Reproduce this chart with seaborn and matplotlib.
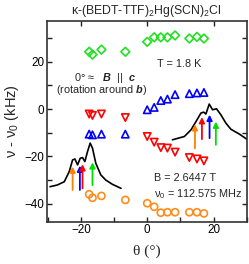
import numpy as np
import pandas as pd
import matplotlib
matplotlib.use("Agg")
import matplotlib.pyplot as plt
import seaborn as sns

# ---------------- data ----------------
theta = [-17.5, -16.5, -13.8, -6.6, 0.0, 2.1, 4.1, 6.1, 8.4, 12.7, 15.0, 17.1]
green_diamond = [24.2, 23.0, 25.1, 24.2, 28.4, 30.3, 30.3, 30.3, 31.1, 29.8, 30.5, 29.8]
blue_up = [-10.6, -10.9, -10.6, -10.6, -0.3, 0.7, 3.6, 4.2, 6.1, 6.5, 6.8, 7.0]
red_down = [-2.1, -2.7, -2.1, -3.6, -11.6, -14.0, -16.3, -16.5, -18.2, -20.5, -21.1, -21.9]
orange_circle = [-36.0, -37.5, -36.7, -38.4, -39.8, -41.3, -43.8, -43.6, -43.6, -43.6, -43.6, -44.1]

spec_left_x = [-29.3, -27.1, -25.0, -23.5, -22.5, -21.8, -21.0, -20.2, -19.5, -18.8,
               -18.0, -17.2, -16.5, -15.5, -14.0, -12.5, -10.5, -7.9]
spec_left_y = [-32.8, -32.1, -30.7, -26.4, -21.5, -21.1, -23.6, -20.8, -20.5, -22.2,
               -18.0, -14.4, -16.5, -22.9, -27.8, -30.0, -31.8, -33.5]
spec_right_x = [7.6, 11.2, 13.2, 14.7, 16.2, 17.0, 17.7, 18.7, 19.7, 20.9, 22.2, 23.7, 25.2, 27.8, 30.3]
spec_right_y = [-13.0, -11.6, -8.8, -5.3, -1.7, -1.3, -2.1, 2.1, -0.3, 0.1, -2.4, -5.9, -8.5, -10.6, -13.0]

arrow_colors = ["#FF8000", "#0000FF", "#FF0000", "#00E000"]
arrow_left_x = [-22.5, -20.3, -19.5, -16.5]
arrow_left_tail = [-34.2, -34.2, -33.5, -32.1]
arrow_left_head = [-24.3, -23.9, -23.3, -22.5]
arrow_right_x = [14.4, 18.8, 16.5, 20.7]
arrow_right_tail = [-16.6, -12.3, -12.7, -15.1]
arrow_right_head = [-6.4, -2.4, -3.4, -5.3]

x_ticks = [-20, 0, 20]
y_ticks = [-40, -20, 0, 20]

# ---------------- style ----------------
sns.set_style("ticks")
plt.rcParams["font.family"] = ["Liberation Sans", "DejaVu Sans"]
plt.rcParams["mathtext.fontset"] = "custom"
plt.rcParams["mathtext.rm"] = "Liberation Sans"
plt.rcParams["mathtext.it"] = "Liberation Sans:italic"
plt.rcParams["mathtext.bf"] = "Liberation Sans:bold"
plt.rcParams["mathtext.bfit"] = "Liberation Sans:italic:bold"

fig = plt.figure(figsize=(2.49, 2.64), dpi=100)
ax = fig.add_axes([0.1876, 0.1602, 0.8032, 0.7603])

series = [
    (green_diamond, "D", "#22E022", 20),
    (blue_up, "^", "#0000FF", 28),
    (red_down, "v", "#FF0000", 28),
    (orange_circle, "o", "#FF8C1A", 26),
]
for vals, mk, col, s in series:
    df = pd.DataFrame({"theta": theta, "nu": vals})
    sns.scatterplot(data=df, x="theta", y="nu", marker=mk, s=s, color=col,
                    facecolor="none", edgecolor=col, linewidth=1.2, ax=ax, zorder=3)

for xs, ys in [(spec_left_x, spec_left_y), (spec_right_x, spec_right_y)]:
    dfl = pd.DataFrame({"x": xs, "y": ys})
    sns.lineplot(data=dfl, x="x", y="y", sort=False, estimator=None, color="black",
                 linewidth=1.2, ax=ax, zorder=2)

for xs, tails, heads in [(arrow_left_x, arrow_left_tail, arrow_left_head),
                         (arrow_right_x, arrow_right_tail, arrow_right_head)]:
    for x, t, h, c in zip(xs, tails, heads, arrow_colors):
        ax.annotate("", xy=(x, h), xytext=(x, t),
                    arrowprops=dict(arrowstyle="-|>", color=c, lw=1.3,
                                    mutation_scale=8, shrinkA=0, shrinkB=0),
                    zorder=4)

ax.set_xlim(-30.3, 30.0)
ax.set_ylim(-47.6, 37.2)
ax.set_xticks(x_ticks)
ax.set_yticks(y_ticks)
ax.set_xticks([-30, -10, 10, 30], minor=True)
ax.set_yticks([-30, -10, 10, 30], minor=True)
ax.tick_params(which="both", direction="in", length=3.5, width=1, labelsize=8.4,
               top=True, right=True, colors="#222222", labelcolor="black", pad=2)
ax.tick_params(which="minor", top=False)
for sp in ax.spines.values():
    sp.set_visible(True)
    sp.set_linewidth(1.2)
    sp.set_color("#333333")

ax.set_xlabel("θ (°)", family=["Liberation Serif", "DejaVu Serif"], fontsize=11, labelpad=6)
ax.set_ylabel("ν - ν$_0$ (kHz)", fontsize=10.5, labelpad=2)
ax.set_title("κ-(BEDT-TTF)$_2$Hg(SCN)$_2$Cl", fontsize=8.8, pad=5)

fs = 7.8
ax.text(3.0, 17.6, "T = 1.8 K", fontsize=fs, va="baseline", ha="left")
ax.text(-22.0, 12.0, r"0° ≈   $\mathbfit{B}$  ||  $\mathbfit{c}$", fontsize=fs, va="baseline", ha="left")
ax.text(-27.5, 6.7, r"(rotation around $\mathbfit{b}$)", fontsize=fs, va="baseline", ha="left")
ax.text(2.1, -30.4, "B = 2.6447 T", fontsize=fs, va="baseline", ha="left")
ax.text(2.1, -37.2, "ν$_0$ = 112.575 MHz", fontsize=fs, va="baseline", ha="left")

fig.savefig("out.png", dpi=100)
